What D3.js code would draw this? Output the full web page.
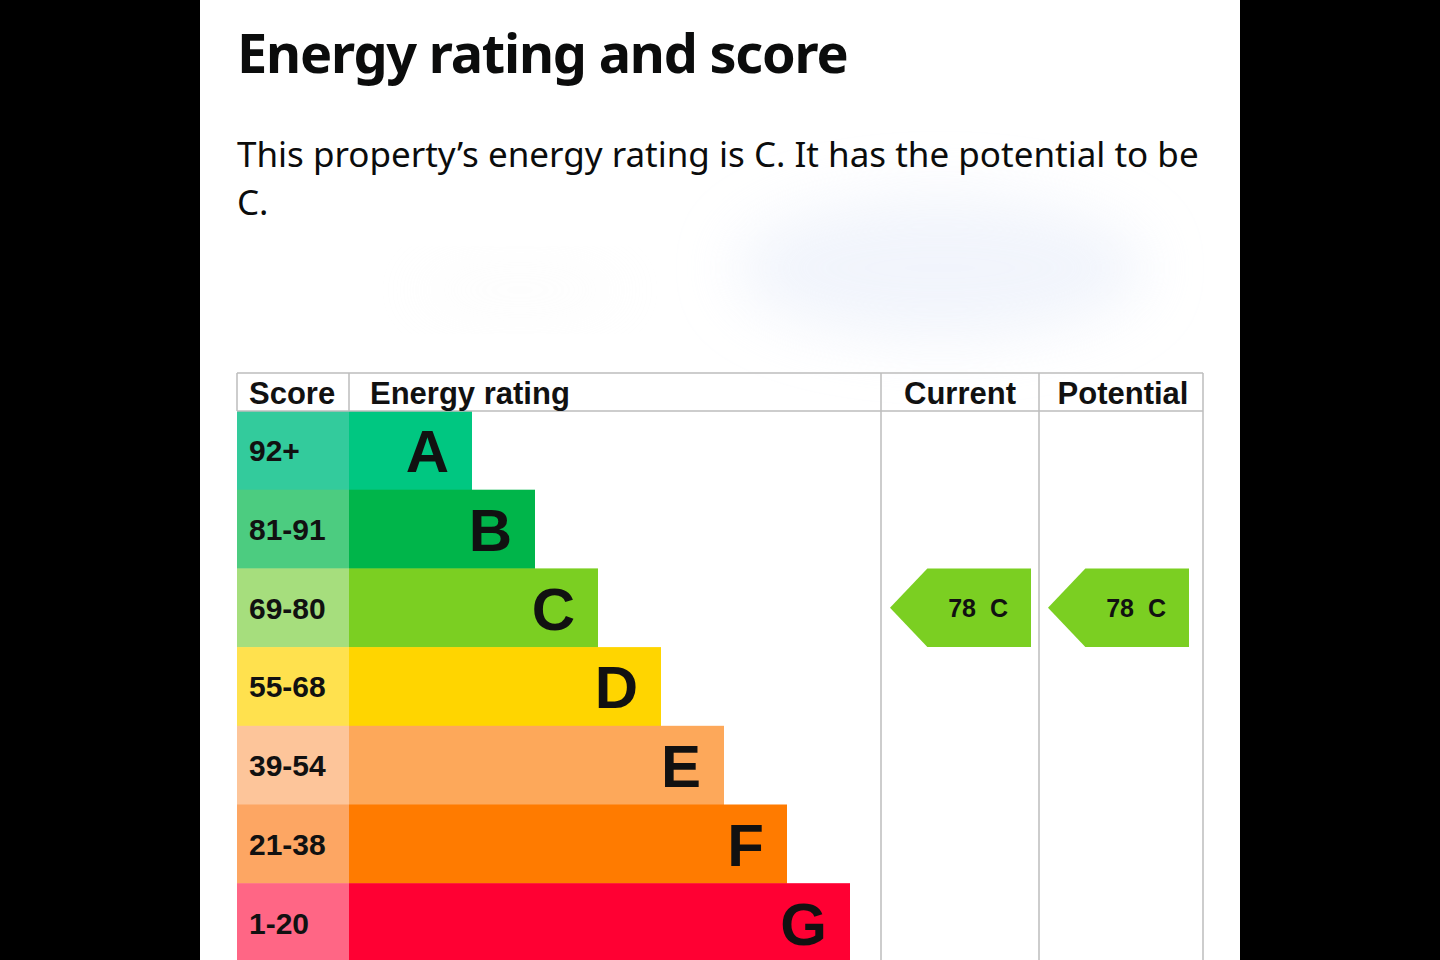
<!DOCTYPE html>
<html>
<head>
<meta charset="utf-8">
<script src="https://cdn.jsdelivr.net/npm/d3@7"></script>
<style>
  html, body { margin: 0; padding: 0; background: #000; }
  svg { display: block; }
</style>
</head>
<body>
<div id="chart"></div>
<script>
// EPC bands, top (best) to bottom
var bands = ['A', 'B', 'C', 'D', 'E', 'F', 'G'];
var scoreRanges = ['92+', '81-91', '69-80', '55-68', '39-54', '21-38', '1-20'];
var bandMin = [92, 81, 69, 55, 39, 21, 1];
var barColours = ['#00c781', '#00b54a', '#7bcf22', '#ffd500', '#fda85a', '#ff7b00', '#ff0033'];
var scoreColours = ['#33cb9c', '#4ccc80', '#a6de7d', '#ffe14e', '#fdc59a', '#fda663', '#ff6685'];
var columns = ['Score', 'Energy rating', 'Current', 'Potential'];
var currentScore = 78;
var potentialScore = 78;

var width = 1440;
var height = 960;

var svg = d3.select('#chart').append('svg').attr('width', width).attr('height', height);

// white page panel
svg.append('rect').attr('x', 200).attr('y', 0).attr('width', 1040).attr('height', height).attr('fill', '#fff');

// blurred (redacted) area
var defs = svg.append('defs');
defs.append('filter').attr('id', 'blur').attr('x', '-50%').attr('y', '-50%').attr('width', '200%').attr('height', '200%')
	.append('feGaussianBlur').attr('stdDeviation', 30);
svg.append('ellipse')
	.attr('cx', 940).attr('cy', 268).attr('rx', 205).attr('ry', 72)
	.attr('fill', '#e6ecf9').attr('opacity', 0.55).attr('filter', 'url(#blur)');
svg.append('ellipse')
	.attr('cx', 520).attr('cy', 290).attr('rx', 110).attr('ry', 22)
	.attr('fill', '#f3f3f3').attr('opacity', 0.25).attr('filter', 'url(#blur)');

// title + sentence
svg.append('text')
	.attr('x', 237).attr('y', 73)
	.attr('font-family', 'Noto Sans, sans-serif').attr('font-weight', 700).attr('font-size', 54)
	.attr('letter-spacing', -1.2)
	.attr('fill', '#0b0c0c')
	.text('Energy rating and score');

var para = svg.append('text')
	.attr('font-family', 'Noto Sans, sans-serif').attr('font-size', 35)
	.attr('fill', '#0b0c0c');
para.append('tspan').attr('x', 237).attr('y', 167)
	.text('This property\u2019s energy rating is ' + bands[2] + '. It has the potential to be');
para.append('tspan').attr('x', 237).attr('y', 215).text(bands[2] + '.');

// table layout
var colX = d3.scaleOrdinal().domain(columns).range([237, 349, 881, 1039]);
var colEnd = 1203;
var headerTop = 373;
var headerBottom = 411;

var y = d3.scaleBand()
	.domain(bands)
	.range([headerBottom, headerBottom + 7 * 78.7]);

// right edge of each rating bar
var barEnd = d3.scaleLinear()
	.domain([0, bands.length - 1])
	.range([472, 850]);

var font = 'Liberation Sans, Arial, sans-serif';

// score cells
svg.append('g').selectAll('rect').data(bands).enter().append('rect')
	.attr('x', colX('Score'))
	.attr('y', (d) => y(d))
	.attr('width', colX('Energy rating') - colX('Score'))
	.attr('height', y.bandwidth() + 0.5)
	.attr('fill', (d, i) => scoreColours[i]);

svg.append('g').selectAll('text').data(bands).enter().append('text')
	.attr('x', colX('Score') + 12)
	.attr('y', (d) => y(d) + y.bandwidth() / 2 + 11)
	.attr('font-family', font).attr('font-weight', 700).attr('font-size', 30)
	.attr('fill', '#111')
	.text((d, i) => scoreRanges[i]);

// rating bars
svg.append('g').selectAll('rect').data(bands).enter().append('rect')
	.attr('x', colX('Energy rating'))
	.attr('y', (d) => y(d))
	.attr('width', (d, i) => barEnd(i) - colX('Energy rating'))
	.attr('height', y.bandwidth() + 0.5)
	.attr('fill', (d, i) => barColours[i]);

svg.append('g').selectAll('text').data(bands).enter().append('text')
	.attr('x', (d, i) => barEnd(i) - 23)
	.attr('y', (d) => y(d) + y.bandwidth() / 2 + 22)
	.attr('text-anchor', 'end')
	.attr('font-family', font).attr('font-weight', 700).attr('font-size', 60)
	.attr('fill', '#111')
	.text((d) => d);

// grid lines
var grid = svg.append('g').attr('stroke', '#bdbdbd').attr('stroke-width', 1.5);
grid.append('line').attr('x1', 237).attr('x2', colEnd).attr('y1', headerTop).attr('y2', headerTop);
grid.append('line').attr('x1', 237).attr('x2', colEnd).attr('y1', headerBottom).attr('y2', headerBottom);
grid.append('line').attr('x1', 237).attr('x2', 237).attr('y1', headerTop).attr('y2', headerBottom);
grid.append('line').attr('x1', colX('Energy rating')).attr('x2', colX('Energy rating')).attr('y1', headerTop).attr('y2', headerBottom);
[colX('Current'), colX('Potential'), colEnd].forEach(function(x) {
	grid.append('line').attr('x1', x).attr('x2', x).attr('y1', headerTop).attr('y2', height);
});

// header labels
var colCentre = {
	'Current': (colX('Current') + colX('Potential')) / 2,
	'Potential': (colX('Potential') + colEnd) / 2 + 2
};
svg.append('g').selectAll('text').data(columns).enter().append('text')
	.attr('x', (d) => colCentre[d] || colX(d) + (d === 'Score' ? 12 : 21))
	.attr('y', headerBottom - 7)
	.attr('text-anchor', (d) => (colCentre[d] ? 'middle' : 'start'))
	.attr('font-family', font).attr('font-weight', 700).attr('font-size', 31)
	.attr('fill', '#111')
	.text((d) => d);

// score -> band
function bandOf(score) {
	var i = bandMin.findIndex((m) => score >= m);
	return i < 0 ? bands.length - 1 : i;
}

var markers = [
	{ col: 'Current', score: currentScore, left: colX('Current') },
	{ col: 'Potential', score: potentialScore, left: colX('Potential') }
];
var arrowW = 141;

var arrow = svg.append('g').selectAll('g').data(markers).enter().append('g')
	.attr('transform', (d) => `translate(${d.left + 9},${y(bands[bandOf(d.score)])})`);

arrow.append('path')
	.attr('d', function() {
		var h = y.bandwidth();
		return `M0,${h / 2} L${h / 2 - 2},0 L${arrowW},0 L${arrowW},${h} L${h / 2 - 2},${h} Z`;
	})
	.attr('fill', (d) => barColours[bandOf(d.score)]);

arrow.append('text')
	.attr('x', arrowW - 55)
	.attr('y', y.bandwidth() / 2 + 9.5)
	.attr('text-anchor', 'end')
	.attr('font-family', font).attr('font-weight', 700).attr('font-size', 25)
	.attr('fill', '#111')
	.text((d) => d.score);

arrow.append('text')
	.attr('x', arrowW - 41)
	.attr('y', y.bandwidth() / 2 + 9.5)
	.attr('text-anchor', 'start')
	.attr('font-family', font).attr('font-weight', 700).attr('font-size', 25)
	.attr('fill', '#111')
	.text((d) => bands[bandOf(d.score)]);
</script>
</body>
</html>
